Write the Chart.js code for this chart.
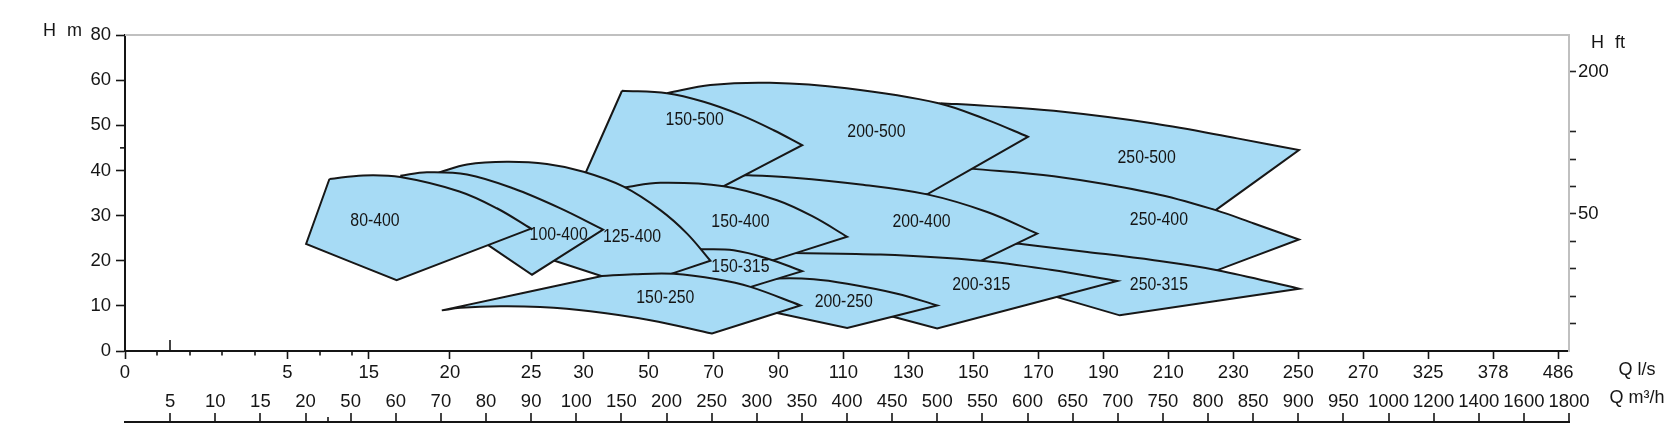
<!DOCTYPE html>
<html><head><meta charset="utf-8">
<script src="https://cdn.jsdelivr.net/npm/chart.js@4.4.1/dist/chart.umd.min.js"></script>
<style>html,body{margin:0;padding:0;background:#fff}#wrap{width:1678px;height:448px;position:relative}</style>
</head><body><div id="wrap"><canvas id="c" width="1678" height="448"></canvas></div>
<script>
// ---- axis tick labels ----
const m3hLabels = [5,10,15,20,50,60,70,80,90,100,150,200,250,300,350,400,450,500,550,600,650,700,750,800,850,900,950,1000,1200,1400,1600,1800];
const lsLabels  = ['0','5','15','20','25','30','50','70','90','110','130','150','170','190','210','230','250','270','325','378','486'];
const lsNominal = [0,5,15,20,25,30,50,70,90,110,130,150,170,190,210,230,250,270,290,310,330];
const lsMinor   = [1,2,3,4,6,7];
const hTickValues = [0,10,20,30,40,50,60,70];
const hTickLabels = ['0','10','20','30','40','50','60','80'];
const ftTickValues = [10,20,30,40,50,60,70,80,102];
const ftTickLabels = ['','','','','50','','','','200'];

// ---- shapes: [Q m3/h, H m]; plain pair = corner, nested list = smooth curve points ----
const s80_400  = [[35.9,38.1], [[52.8,38.9],[61.0,38.54],[74.1,35.34],[82.4,31.62]], [90.0,27.1], [60.2,15.7], [20.4,23.7]];
const s100_400 = [[61.0,38.8], [[66.9,39.6],[75.8,39.1],[86.1,36.0],[96.5,31.6]], [129.7,26.9], [90.2,16.9], [69.8,30.7]];
const s125_400 = [[69.5,39.5], [[75.8,41.3],[84.6,41.9],[93.5,41.4],[108.1,39.7],[152.5,36.4],[193.2,31.2],[222.8,26.0]], [248.6,20.0], [163.2,14.3], [83.2,23.9]];
const s150_500 = [[150.7,57.65], [[200.6,57.1],[241.2,55.2],[281.9,52.3],[318.8,48.9]], [350.3,45.6], [263.4,36.5], [98.9,32.3]];
const s200_500 = [[200.6,57.1], [[248.6,58.9],[314.7,59.4],[399.6,58.2],[501.4,54.9],[555.4,51.2]], [600.4,47.45], [488.8,34.7], [414.9,35.2], [337.3,36.5], [288.5,38.5], [237.5,44.5]];
const s250_500 = [[503.6,54.9], [[555.4,54.3],[629.2,53.2],[740.1,50.4],[832.5,47.1]], [900.8,44.5], [808.5,31.2], [680.9,35.2], [559.0,38.3], [531.3,40.1], [492.5,53.4]];
const s150_400 = [[152.5,36.2], [[193.2,37.25],[263.4,36.5],[322.5,33.4],[363.1,29.7]], [400.2,25.3], [292.9,18.5], [198.7,21.2], [143.3,33.4]];
const s200_400 = [[287.4,39.0], [[341.0,38.4],[415.0,36.9],[488.8,34.7],[555.4,30.8]], [610.8,26.0], [525.8,17.8], [370.6,19.7], [309.6,22.8], [254.2,33.4], [259.7,37.85]];
const s250_400 = [[536.9,40.4], [[629.2,38.7],[740.1,34.9],[808.5,31.2],[850.9,28.25]], [900.8,24.7], [786.3,16.1], [625.5,21.2], [570.1,24.55], [492.5,32.3], [475.9,36.7], [520.2,41.2]];
const s150_315 = [[237.5,22.55], [[274.4,22.3],[311.5,20.5]], [350.3,17.7], [270.8,12.8], [198.7,15.2], [193.2,24.5]];
const s200_315 = [[341.0,21.7], [[437.1,21.35],[547.9,20.0],[625.5,18.0]], [699.5,15.5], [499.9,5.0], [414.9,9.5], [301.8,11.7], [281.9,16.8], [315.1,22.3]];
const s250_315 = [[588.6,23.8], [[666.2,21.95],[740.1,20.1],[810.3,17.9]], [900.8,13.8], [702.2,7.9], [592.3,14.3], [542.4,19.7], [559.0,23.4]];
const s150_250 = [[70.2,9.0], [128.5,16.6], [[163.6,17.0],[207.9,17.1],[256.0,15.9],[293.0,14.2]], [348.4,10.1], [250.5,3.86], [[182.1,6.81],[115.6,8.8],[92.0,9.73],[83.15,9.91],[74.3,9.56]]];
const s200_250 = [[298.5,15.45], [[322.9,16.05],[363.1,15.9],[400.2,14.9],[455.6,12.7]], [499.9,10.1], [400.2,5.1], [276.3,10.4]];

// drawing order: first = on top
const shapeOrder = [s80_400, s100_400, s150_250, s125_400, s150_315, s200_250, s150_400, s150_500, s200_315, s200_400, s200_500, s250_315, s250_400, s250_500];

// label names and their anchor [Q, H]
const labelNames = ['80-400','100-400','125-400','150-500','200-500','250-500','150-400','200-400','250-400','150-315','150-250','200-250','200-315','250-315'];
const labelQ = [55.4, 96.1, 161.8, 231.2, 432.6, 732.0, 281.9, 482.5, 745.6, 281.9, 198.7, 396.4, 548.7, 745.6];
const labelH = [28.8, 25.65, 25.3, 51.2, 48.6, 42.7, 28.6, 28.6, 29.1, 18.5, 11.8, 10.9, 14.6, 14.7];

// ---- axis mapping (Q m3/h -> position along the bottom axis label index) ----
function qToP(q){
  if (q <= m3hLabels[0]) return q / m3hLabels[0] - 1;
  for (let k = 0; k < m3hLabels.length - 1; k++){
    const a = m3hLabels[k], b = m3hLabels[k+1];
    if (q <= b) return k + (q - a) / (b - a);
  }
  return m3hLabels.length - 1;
}
function lsToP(q){
  const p0 = qToP(0), p5 = qToP(5*3.6);
  if (q <= 7) return p0 + q * (p5 - p0) / 5;
  if (q <= 270) return qToP(q * 3.6);
  const p270 = qToP(270*3.6), p250 = qToP(250*3.6);
  return p270 + (q - 270) / 20 * (p270 - p250);
}
function buildPath(items){
  const out = [];
  const push = pt => out.push({x: qToP(pt[0]), y: pt[1]});
  items.forEach((it, i) => {
    if (Array.isArray(it[0])) it.forEach(push);
    else { push(it); if (i > 0) push(it); }
  });
  push(items[0]);
  return out;
}

const FONT = '"Liberation Sans", Arial, Helvetica, sans-serif';
const INK = '#151515';

const decor = {
  id: 'decor',
  beforeDatasetsDraw(chart){
    const {ctx, chartArea: a} = chart;
    ctx.save();
    ctx.strokeStyle = '#c0c0c0'; ctx.lineWidth = 2;
    ctx.beginPath(); ctx.moveTo(a.left, a.top); ctx.lineTo(a.right + 1, a.top); ctx.stroke();
    ctx.restore();
  },
  afterDatasetsDraw(chart){
    const {ctx} = chart;
    const xs = chart.scales.x, ys = chart.scales.y;
    ctx.save();
    ctx.font = '18px ' + FONT;
    ctx.fillStyle = INK; ctx.textAlign = 'center'; ctx.textBaseline = 'middle';
    labelNames.forEach((n, i) => {
      const px = xs.getPixelForValue(qToP(labelQ[i])), py = ys.getPixelForValue(labelH[i]);
      ctx.save(); ctx.translate(px, py); ctx.scale(0.88, 1); ctx.fillText(n, 0, 0); ctx.restore();
    });
    ctx.restore();
  },
  afterDraw(chart){
    const {ctx, chartArea: a} = chart;
    const xs = chart.scales.x, x2 = chart.scales.x2, ys = chart.scales.y;
    ctx.save();
    ctx.strokeStyle = INK; ctx.lineWidth = 1.6;
    lsMinor.forEach(q => {
      const px = Math.round(xs.getPixelForValue(lsToP(q)));
      ctx.beginPath(); ctx.moveTo(px, a.bottom); ctx.lineTo(px, a.bottom + 4.5); ctx.stroke();
    });
    const pt = Math.round(xs.getPixelForValue(0));
    ctx.beginPath(); ctx.moveTo(pt, a.bottom); ctx.lineTo(pt, a.bottom - 11); ctx.stroke();
    const py45 = ys.getPixelForValue(45);
    ctx.beginPath(); ctx.moveTo(a.left - 5, py45); ctx.lineTo(a.left, py45); ctx.stroke();
    const ly = x2.top + 31;
    ctx.lineWidth = 2;
    ctx.beginPath(); ctx.moveTo(a.left - 1, ly); ctx.lineTo(a.right + 1, ly); ctx.stroke();
    ctx.lineWidth = 1.6;
    m3hLabels.forEach((v, i) => {
      const px = Math.round(x2.getPixelForValue(i));
      ctx.beginPath(); ctx.moveTo(px, ly); ctx.lineTo(px, ly - 9); ctx.stroke();
    });
    const ps = Math.round(x2.getPixelForValue(3.5));
    ctx.beginPath(); ctx.moveTo(ps, ly); ctx.lineTo(ps, ly - 5); ctx.stroke();
    ctx.fillStyle = INK; ctx.font = '18px ' + FONT; ctx.textBaseline = 'middle';
    ctx.textAlign = 'left';
    ctx.fillText('H', 43, 31); ctx.fillText('m', 67, 31);
    ctx.fillText('H', 1591, 43); ctx.fillText('ft', 1615, 43);
    ctx.textAlign = 'center';
    ctx.fillText('Q l/s', 1637, 370);
    ctx.fillText('Q m\u00B3/h', 1637, 398);
    ctx.restore();
  }
};

const tickFont = {family: FONT, size: 18.5};

new Chart(document.getElementById('c'), {
  type: 'line',
  data: {
    datasets: shapeOrder.map(s => ({
      data: buildPath(s),
      borderColor: '#171717', borderWidth: 2, backgroundColor: '#a7dbf5',
      fill: 'shape', tension: 0.36, pointRadius: 0, pointHoverRadius: 0,
      borderJoinStyle: 'miter', xAxisID: 'x', yAxisID: 'y'
    }))
  },
  options: {
    responsive: false, animation: false, events: [],
    layout: {padding: {top: 35, left: 0, right: 0, bottom: 0}},
    plugins: {legend: {display: false}, tooltip: {enabled: false}},
    scales: {
      x: {
        type: 'linear', position: 'bottom', min: -1, max: 31, weight: 0,
        afterBuildTicks: s => { s.ticks = lsNominal.map(v => ({value: lsToP(v)})); },
        afterFit: s => { s.height = 40; },
        ticks: {autoSkip: false, maxRotation: 0, minRotation: 0, padding: 3, color: INK, font: tickFont,
                callback: (v, i) => lsLabels[i]},
        grid: {drawOnChartArea: false, drawTicks: true, tickLength: 8, tickColor: INK, tickWidth: 1.6},
        border: {display: true, color: INK, width: 2}
      },
      x2: {
        type: 'linear', position: 'bottom', min: -1, max: 31, weight: 1,
        afterBuildTicks: s => { s.ticks = m3hLabels.map((v, i) => ({value: i})); },
        afterFit: s => { s.height = 57; },
        ticks: {autoSkip: false, maxRotation: 0, minRotation: 0, padding: 0, color: INK, font: tickFont,
                callback: (v, i) => String(m3hLabels[i])},
        grid: {display: false, drawTicks: false},
        border: {display: false}
      },
      y: {
        type: 'linear', position: 'left', min: 0, max: 70,
        afterBuildTicks: s => { s.ticks = hTickValues.map(v => ({value: v})); },
        afterFit: s => { s.width = 125; },
        ticks: {autoSkip: false, padding: 5, color: INK, font: tickFont, callback: (v, i) => hTickLabels[i]},
        grid: {drawOnChartArea: false, tickLength: 9, tickColor: INK, tickWidth: 1.6},
        border: {display: true, color: INK, width: 2}
      },
      yr: {
        type: 'linear', position: 'right', min: 0, max: 115.3,
        afterBuildTicks: s => { s.ticks = ftTickValues.map(v => ({value: v})); },
        afterFit: s => { s.width = 109; },
        ticks: {autoSkip: false, padding: 2, color: INK, font: tickFont, callback: (v, i) => ftTickLabels[i]},
        grid: {drawOnChartArea: false, tickLength: 7, tickColor: '#222', tickWidth: 1.6},
        border: {display: true, color: '#c0c0c0', width: 2}
      }
    }
  },
  plugins: [decor]
});
</script>
</body></html>
